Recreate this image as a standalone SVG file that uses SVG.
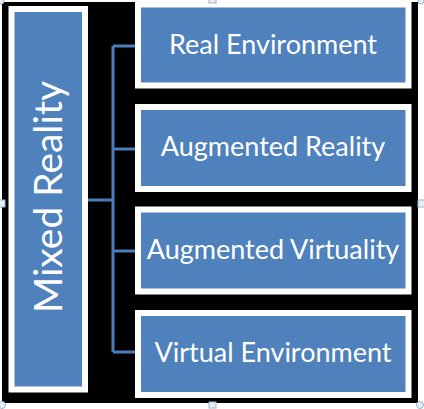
<svg xmlns="http://www.w3.org/2000/svg" width="424" height="409" viewBox="0 0 424 409">
  <style>
    .box { fill: #4f81bd; stroke: #ffffff; stroke-width: 6; }
    .label { fill: #ffffff; font-family: Lato, "Open Sans", "Liberation Sans", sans-serif; font-size: 27px; text-anchor: middle; }
    .title { font-size: 39px; }
    .link { fill: none; stroke: #4a7ebb; stroke-width: 3; }
    .handle { fill: #e6eef5; stroke: #9fb3c8; stroke-width: 1; }
  </style>

  <!-- canvas -->
  <rect x="0" y="0" width="424" height="409" fill="#ffffff"/>
  <rect x="2" y="2" width="416" height="401" fill="#000000"/>

  <!-- connectors -->
  <g id="connectors">
    <path class="link" d="M88 200 H113"/>
    <path class="link" d="M113 46 V352"/>
    <path class="link" d="M113 46 H136"/>
    <path class="link" d="M113 149 H136"/>
    <path class="link" d="M113 251 H136"/>
    <path class="link" d="M113 352 H136"/>
  </g>

  <!-- root -->
  <g id="mixed-reality">
    <rect class="box" x="11.5" y="9" width="73.5" height="380.5"/>
    <text class="label title" transform="translate(62 197) rotate(-90)">Mixed Reality</text>
  </g>

  <!-- children -->
  <g id="real-environment">
    <rect class="box" x="138" y="4.5" width="270.5" height="81"/>
    <text class="label" x="273" y="54">Real Environment</text>
  </g>
  <g id="augmented-reality">
    <rect class="box" x="138" y="107" width="270.5" height="82"/>
    <text class="label" x="273" y="156">Augmented Reality</text>
  </g>
  <g id="augmented-virtuality">
    <rect class="box" x="138" y="209.5" width="270.5" height="82"/>
    <text class="label" x="273" y="259">Augmented Virtuality</text>
  </g>
  <g id="virtual-environment">
    <rect class="box" x="138" y="313" width="270.5" height="82"/>
    <text class="label" x="273" y="362">Virtual Environment</text>
  </g>

  <!-- selection handles -->
  <g id="handles">
    <circle class="handle" cx="1" cy="1" r="3"/>
    <circle class="handle" cx="421" cy="1" r="3"/>
    <circle class="handle" cx="2" cy="405" r="3.5"/>
    <circle class="handle" cx="420" cy="405" r="3.5"/>
    <rect class="handle" x="209" y="-2" width="7" height="5"/>
    <rect class="handle" x="209" y="402" width="7" height="6"/>
    <rect class="handle" x="-2" y="200" width="7" height="7"/>
    <rect class="handle" x="418" y="200" width="7" height="7"/>
  </g>
</svg>
